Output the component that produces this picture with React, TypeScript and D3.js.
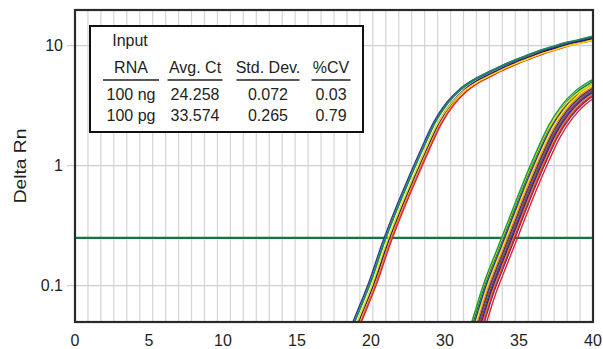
import { scaleLinear, scaleLog, line, curveMonotoneX, range } from "d3";

const WIDTH = 603;
const HEIGHT = 349;
const FONT = "'Liberation Sans', Arial, Helvetica, sans-serif";
const INK = "#231f20";

// cycle axis: real scale 0..40, but the printed labels sit at 8 even slots
const xTickLabels = ["0", "5", "10", "15", "20", "30", "35", "40"];
const yTicks = [0.1, 1, 10];
const threshold = 0.25;

// 100 ng reference amplification profile (Delta Rn per cycle)
const ngCycles = [21, 22, 23, 24, 25, 26, 27, 28, 29, 30, 31, 32, 33, 34, 35, 36, 37, 38, 39, 40, 41];
const ngProfile = [0.031, 0.057, 0.106, 0.22, 0.42, 0.76, 1.34, 2.28, 3.32, 4.29, 5.1, 5.8, 6.55, 7.3, 8.05, 8.85, 9.55, 10.3, 10.9, 11.55, 12.1];
// per well: cycle offset, plateau factor, colour
const ngShift = [-0.3, -0.2, -0.12, 0.05, 0.12, 0.2, 0.3, -0.05];
const ngScale = [1.01, 1.0, 1.03, 1.0, 1.0, 0.97, 0.98, 0.96];
const ngColors = ["#2b3990", "#3c5aa8", "#159447", "#662d91", "#262262", "#f07f22", "#e5202e", "#f4e400"];

// 100 pg reference amplification profile
const pgCycles = [30, 31, 32, 33, 34, 35, 36, 37, 38, 39, 40, 41];
const pgProfile = [0.02, 0.043, 0.095, 0.18, 0.34, 0.64, 1.15, 1.95, 2.85, 3.7, 4.4, 5.0];
const pgShift = [0.45, 0.3, 0.26, 0.2, 0.14, 0.08, 0.02, -0.04, -0.1, -0.18, -0.25, -0.32, -0.5, -0.4];
const pgScale = [0.88, 0.9, 0.92, 0.93, 0.95, 0.96, 0.98, 1.0, 1.02, 1.04, 1.06, 1.09, 1.02, 1.12];
const pgColors = ["#e5202e", "#5b2c83", "#e5202e", "#f07f22", "#1f2a6e", "#662d91", "#8b5a2b", "#27318b", "#f07f22", "#f4e400", "#2b3990", "#0d7a3d", "#f4e400", "#1a9a4a"];

const tableHeader = ["RNA", "Avg. Ct", "Std. Dev.", "%CV"];
const tableRows = [
  ["100 ng", "24.258", "0.072", "0.03"],
  ["100 pg", "33.574", "0.265", "0.79"],
];

const LEFT = 75;
const RIGHT = 593;
const TOP = 10;
const BOTTOM = 322;

const colCenters = [131, 195, 268, 331];
const ruleWidths = [56, 55, 63, 39];

export default function App() {
  const x = scaleLinear().domain([0, 40]).range([LEFT, RIGHT]);
  const y = scaleLog().domain([0.0497, 19.8]).range([BOTTOM, TOP]);
  const path = line<[number, number]>()
    .x((d) => x(d[0]))
    .y((d) => y(d[1]))
    .curve(curveMonotoneX);

  const wellPath = (cycles: number[], profile: number[], shift: number, scale: number) =>
    path(cycles.map((c, i) => [c + shift, profile[i] * scale]));

  const labelSlots = xTickLabels.map((_, i) => (i * 40) / (xTickLabels.length - 1));

  return (
    <svg width={WIDTH} height={HEIGHT} style={{ position: "absolute", left: 0, top: 0 }} fontFamily={FONT}>
      <style>{`body{margin:0}`}</style>
      <defs>
        <clipPath id="plot">
          <rect x={LEFT} y={TOP} width={RIGHT - LEFT} height={BOTTOM - TOP} />
        </clipPath>
      </defs>
      <rect x={0} y={0} width={WIDTH} height={HEIGHT} fill="#fff" />

      {range(1, 40).map((c) => (
        <line key={c} x1={x(c)} x2={x(c)} y1={TOP} y2={BOTTOM} stroke="#d4d4d4" strokeWidth={1.2} />
      ))}
      {yTicks.map((t) => (
        <g key={t}>
          <line x1={LEFT - 8} x2={RIGHT} y1={y(t)} y2={y(t)} stroke="#cfcfcf" strokeWidth={1.2} />
          <text x={63} y={y(t)} dy="0.35em" textAnchor="end" fontSize={16} fill={INK}>
            {t}
          </text>
        </g>
      ))}

      <g clipPath="url(#plot)">
        <line x1={LEFT} x2={RIGHT} y1={y(threshold)} y2={y(threshold)} stroke="#0b7a3e" strokeWidth={2.2} />
        {ngShift.map((s, i) => (
          <path key={"ng" + i} d={wellPath(ngCycles, ngProfile, s, ngScale[i]) ?? ""} fill="none" stroke={ngColors[i]} strokeWidth={1.4} />
        ))}
        {pgShift.map((s, i) => (
          <path key={"pg" + i} d={wellPath(pgCycles, pgProfile, s, pgScale[i]) ?? ""} fill="none" stroke={pgColors[i]} strokeWidth={1.4} />
        ))}
      </g>

      <rect x={LEFT} y={TOP} width={RIGHT - LEFT} height={BOTTOM - TOP} fill="none" stroke="#2a2a2a" strokeWidth={2.2} />

      {labelSlots.map((v, i) => (
        <text key={i} x={x(v)} y={346} textAnchor="middle" fontSize={16} fill={INK}>
          {xTickLabels[i]}
        </text>
      ))}
      {/* the source art stretches the rotated title along its length */}
      <text transform={`translate(26,${(TOP + BOTTOM) / 2}) rotate(-90) scale(1.2,1)`} textAnchor="middle" fontSize={16} fill={INK}>
        Delta Rn
      </text>

      <g>
        <rect x={90} y={26} width={273} height={106} fill="#fff" stroke="#111" strokeWidth={2} />
        <text x={colCenters[0] - 1} y={46} textAnchor="middle" fontSize={16} fill={INK}>
          Input
        </text>
        {tableHeader.map((h, i) => (
          <g key={h}>
            <text x={colCenters[i]} y={73} textAnchor="middle" fontSize={16} fill={INK}>
              {h}
            </text>
            <line x1={colCenters[i] - ruleWidths[i] / 2} x2={colCenters[i] + ruleWidths[i] / 2} y1={80} y2={80} stroke={INK} strokeWidth={1.6} />
          </g>
        ))}
        {tableRows.map((row, r) =>
          row.map((cell, i) => (
            <text key={r + "-" + i} x={colCenters[i]} y={100 + r * 20.5} textAnchor="middle" fontSize={16} fill={INK}>
              {cell}
            </text>
          ))
        )}
      </g>
    </svg>
  );
}
